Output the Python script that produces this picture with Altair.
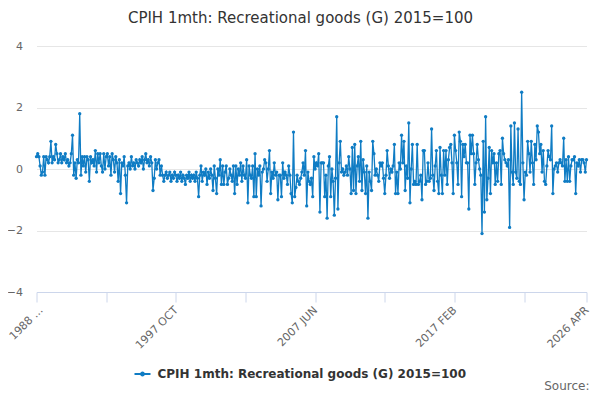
import altair as alt
import pandas as pd

TITLE = "CPIH 1mth: Recreational goods (G) 2015=100"
SERIES = "CPIH 1mth: Recreational goods (G) 2015=100"
BLUE = "#0f7cc4"
FONT = "DejaVu Sans"

months = ["JAN", "FEB", "MAR", "APR", "MAY", "JUN",
          "JUL", "AUG", "SEP", "OCT", "NOV", "DEC"]

# monthly % change, 1988 FEB .. 2026 APR
y1988 = [0.4, 0.5, 0.4, 0.1, -0.2, -0.1, 0.4, -0.2, 0.4, 0.3, 0.2]
y1989 = [0.4, 0.9, 0.2, 0.4, 0.3, 0.8, 0.5, 0.2, 0.3, 0.5, 0.2, 0.4]
y1990 = [0.3, 0.5, 0.2, 0.3, 0.1, 0.2, 0.5, 1.1, -0.2, 0.2, -0.3, 0.3]
y1991 = [0.2, 1.8, -0.2, 0.4, 0.1, 0.4, -0.1, 0.4, 0.3, -0.4, 0.4, 0.2]
y1992 = [0.3, 0.1, 0.6, -0.1, 0.5, 0.2, 0.5, 0.1, -0.1, 0.5, 0.0, 0.4]
y1993 = [0.5, 0.1, 0.4, -0.2, 0.5, 0.3, -0.1, 0.4, 0.2, -0.4, 0.3, -0.8]
y1994 = [0.2, 0.1, 0.4, -0.2, -1.1, 0.1, 0.2, 0.0, 0.4, 0.1, 0.2, 0.0]
y1995 = [0.3, 0.2, 0.1, 0.3, 0.2, 0.4, 0.0, 0.3, 0.5, 0.2, 0.3, 0.1]
y1996 = [0.4, 0.2, -0.7, -0.3, 0.3, 0.0, 0.2, 0.3, -0.2, 0.1, -0.2, -0.4]
y1997 = [-0.2, -0.1, -0.3, -0.2, -0.1, -0.4, -0.2, -0.3, -0.1, -0.2, -0.4, -0.2]
y1998 = [-0.3, -0.1, -0.4, -0.2, -0.3, -0.5, -0.2, -0.3, -0.1, -0.4, -0.2, -0.3]
y1999 = [-0.2, -0.4, -0.1, -0.3, -0.9, -0.2, 0.1, -0.4, -0.1, -0.2, 0.0, -0.5]
y2000 = [-0.1, -0.3, 0.0, -0.2, -0.7, 0.1, -0.3, -0.8, 0.0, -0.2, 0.3, -0.5]
y2001 = [0.1, -0.5, -0.1, 0.1, -0.5, -0.3, 0.0, -0.2, -0.4, 0.1, -0.8, 0.1]
y2002 = [-0.5, 0.0, -0.2, 0.2, -0.4, 0.1, -0.2, -0.3, 0.3, -1.1, 0.1, -0.2]
y2003 = [-0.3, 0.1, -0.9, 0.5, -0.9, 0.0, -0.2, 0.1, -1.2, -0.1, 0.0, 0.3]
y2004 = [0.2, -0.4, 0.0, 0.6, -0.8, -0.1, -0.3, 0.2, -0.2, -0.1, -1.0, -0.2]
y2005 = [-0.2, -0.9, 0.2, -0.3, -0.1, -0.2, -0.5, 0.1, -0.2, -0.8, -1.1, 1.2]
y2006 = [-0.9, -0.6, -0.2, -0.4, -0.5, -0.3, -0.1, 0.2, -0.2, 0.6, -1.2, -0.1]
y2007 = [-0.4, -0.5, -0.3, -0.9, 0.4, 0.0, 0.2, 0.1, 0.5, -1.4, 0.2, 0.2]
y2008 = [0.2, -0.9, -0.2, -1.6, 0.1, 0.4, -0.9, 0.0, -0.4, -1.5, -0.3, 1.7]
y2009 = [-1.3, 0.2, 0.9, -0.1, 0.0, -0.2, -0.1, 0.1, -0.2, 0.4, 0.0, -0.8]
y2010 = [0.7, -0.7, 0.8, -0.8, 0.1, 0.4, -0.4, 0.9, -0.7, 0.3, -0.1, -0.8]
y2011 = [0.1, -1.6, -0.1, -0.4, -0.7, 0.9, 0.5, -0.2, 0.0, -0.2, -0.4, 0.2]
y2012 = [0.1, 0.2, -0.3, -0.8, -0.2, 0.6, 0.1, -0.3, 0.0, -0.1, 0.1, 0.8]
y2013 = [-0.8, -0.1, -0.8, 0.2, 0.0, 1.1, 0.2, 0.9, -0.7, 0.1, -0.3, 1.5]
y2014 = [-1.1, 0.0, 0.8, -0.5, -0.4, -0.5, 0.8, -0.5, -0.4, -0.2, -1.0, 0.6]
y2015 = [0.6, -0.5, -0.4, 0.2, -0.4, -0.3, 1.3, -0.2, -0.7, 0.1, 0.6, -0.4]
y2016 = [-0.8, 0.7, -0.2, -0.8, 0.6, -0.2, 0.6, -0.5, 0.3, 0.7, 0.8, 0.2]
y2017 = [-0.8, 1.1, 0.6, 0.2, -0.5, 1.2, 0.9, -0.9, 0.8, 0.4, 0.8, 0.2]
y2018 = [0.2, -1.3, 1.1, 0.5, 1.1, 0.5, -0.5, 0.2, 0.8, 0.3, 0.0, -0.2]
y2019 = [-2.1, 0.9, -1.4, 1.7, -1.0, -0.3, 0.7, -0.8, 0.6, 0.2, 0.5, -0.5]
y2020 = [0.2, -0.4, 0.5, 0.6, -0.5, 1.0, 0.5, 0.3, 0.2, 0.1, 0.3, -1.9]
y2021 = [1.4, -0.1, -0.5, 1.5, -0.1, -0.3, 1.3, -0.4, -0.5, 2.5, 0.2, -1.0]
y2022 = [-0.1, -0.2, 0.9, 0.5, -0.1, 0.9, 0.2, -0.5, 0.8, 0.3, 1.4, 1.2]
y2023 = [0.5, 0.8, -0.1, 0.6, -0.4, -0.5, 0.1, 0.6, 0.4, 0.3, 1.4, -0.8]
y2024 = [0.0, 0.1, 0.2, -0.1, 0.2, 0.3, 0.2, 0.1, 1.0, -0.4, 0.3, -0.4]
y2025 = [0.4, -0.4, 0.1, 0.3, 0.3, 0.4, -0.8, 0.2, 0.1, 0.3, -0.1, 0.3]
y2026 = [0.3, 0.2, -0.1, 0.3]

values = (y1988 + y1989 + y1990 + y1991 + y1992 + y1993 + y1994 + y1995 +
          y1996 + y1997 + y1998 + y1999 + y2000 + y2001 + y2002 + y2003 +
          y2004 + y2005 + y2006 + y2007 + y2008 + y2009 + y2010 + y2011 +
          y2012 + y2013 + y2014 + y2015 + y2016 + y2017 + y2018 + y2019 +
          y2020 + y2021 + y2022 + y2023 + y2024 + y2025 + y2026)
n = len(values)
periods = [f"{1988 + (1 + i) // 12} {months[(1 + i) % 12]}" for i in range(n)]

# category axis: ticks every 29 months, labels every 116 + last
tick_labels = ["1988 ...", "1997 OCT", "2007 JUN", "2017 FEB", "2026 APR"]
label_pos = [0, 116, 232, 348, n - 1]
tick_vals = list(range(0, n - 20, 29)) + [n - 1]

expr = "''"
for pos, lab in reversed(list(zip(label_pos, tick_labels))):
    expr = f"datum.value == {pos} ? '{lab}' : " + expr

df = pd.DataFrame({"i": list(range(n)), "period": periods,
                   "value": values, "series": [SERIES] * n})

x_enc = alt.X("i:Q",
              scale=alt.Scale(domain=[0, n - 1], nice=False, zero=False),
              axis=alt.Axis(values=tick_vals, labelExpr=expr, labelAngle=315,
                            title=None, grid=False, domainColor="#ccd6eb",
                            tickColor="#ccd6eb", tickSize=10,
                            labelColor="#666666", labelFontSize=11,
                            labelFont=FONT, labelPadding=2,
                            labelOffset={"condition": {"test": "datum.value == 0",
                                                       "value": 0},
                                         "value": -4},
                            labelFlush=False, labelOverlap=False))
y_enc = alt.Y("value:Q",
              scale=alt.Scale(domain=[-4, 4], nice=False),
              axis=alt.Axis(values=[-4, -2, 0, 2, 4], title=None,
                            domain=False, ticks=False, gridColor="#e6e6e6",
                            labelColor="#666666", labelFontSize=11,
                            labelFont=FONT, labelPadding=14))

base = alt.Chart(df)
line = base.mark_line(color=BLUE, strokeWidth=1.3).encode(x=x_enc, y=y_enc)

legend_symbol = ("M-1,-0.12H1V0.12H-1Z "
                 "M0.3,0A0.3,0.3,0,1,1,-0.3,0A0.3,0.3,0,1,1,0.3,0Z")
points = base.mark_point(filled=True, size=11, opacity=1).encode(
    x="i:Q", y="value:Q",
    color=alt.Color("series:N", scale=alt.Scale(range=[BLUE]),
                    legend=alt.Legend(title=None, orient="none",
                                      legendX=98, legendY=320,
                                      symbolType=legend_symbol,
                                      symbolSize=256, symbolStrokeWidth=0,
                                      labelFont=FONT, labelFontSize=12,
                                      labelFontWeight="bold",
                                      labelColor="#333333", labelOffset=7,
                                      labelLimit=400, padding=0)))

source = alt.Chart(pd.DataFrame({"t": ["Source:"]})).mark_text(
    align="right", baseline="alphabetic", fontSize=12, color="#666666",
    font=FONT).encode(x=alt.value(553), y=alt.value(344), text="t:N")

chart = alt.layer(line, points, source).properties(
    width=550, height=246,
    padding={"left": 28.5, "top": 38, "right": 5.5, "bottom": 100},
    autosize="none",
    title=alt.TitleParams(TITLE, fontSize=15, font=FONT, color="#333333",
                          fontWeight="normal", anchor="middle", dx=-11,
                          offset=14),
    background="white",
).configure_view(stroke=None)

chart.save("out.html", embed_options={"renderer": "svg", "actions": False})
